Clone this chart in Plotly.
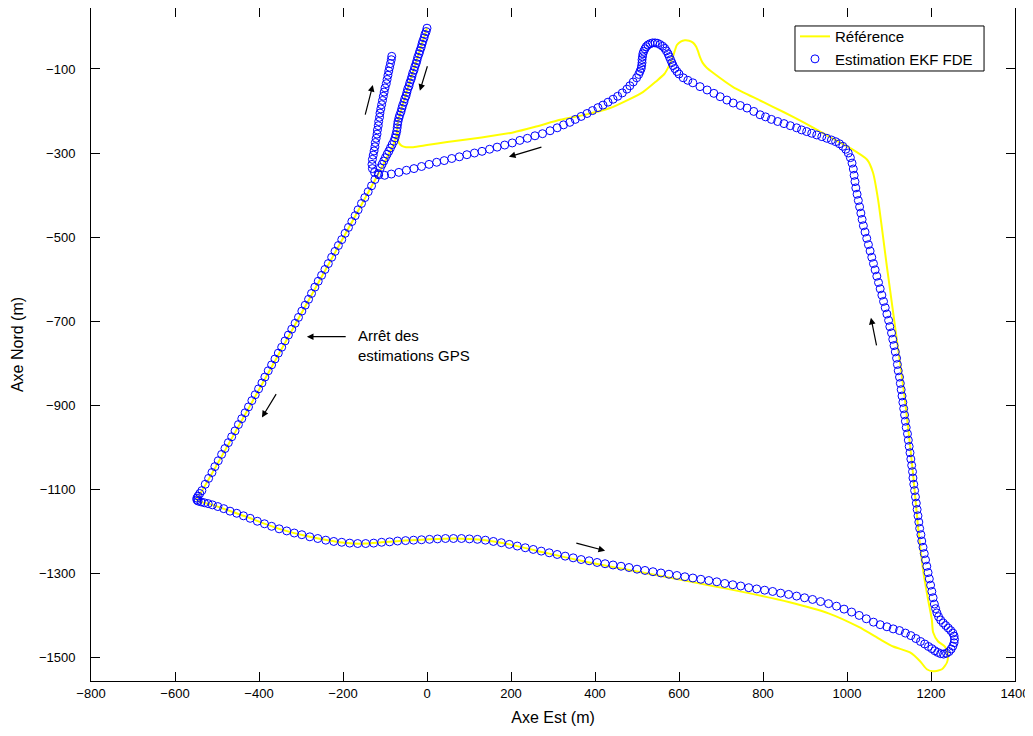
import plotly.graph_objects as go

# ---------------- Estimation EKF FDE (blue circles), by route segment ----------------
depart_e = [0, -2, -5, -7, -10, -12, -14, -17, -19, -22, -24, -26, -29, -31, -34, -36, -38, -41, -43, -46,
            -48, -50, -53, -55, -58, -60, -62, -65, -67, -69, -70, -71, -72, -74, -76, -79, -83, -87, -91, -95,
            -99, -103, -107, -111]
depart_n = [-3, -11, -18, -26, -34, -41, -49, -57, -64, -72, -80, -87, -95, -103, -110, -118, -125, -133, -141, -148,
            -156, -164, -171, -179, -187, -194, -202, -210, -217, -225, -232, -240, -248, -256, -264, -272, -280, -288, -296, -303,
            -311, -319, -327, -335]

diag_e = [-116, -124, -132, -140, -148, -156, -164, -171, -179, -187, -195, -203, -211, -219, -227, -235, -243, -251, -259, -267,
          -275, -282, -290, -298, -306, -314, -322, -330, -338, -346, -354, -362, -370, -378, -386, -393, -401, -409, -417, -425,
          -433, -441, -449, -457, -465, -473, -481, -489, -497, -505, -512, -520, -528, -536, -541, -545, -548, -548]
diag_n = [-349, -363, -378, -392, -406, -420, -435, -449, -463, -477, -491, -506, -520, -534, -548, -563, -577, -591, -605, -619,
          -634, -648, -662, -676, -691, -705, -719, -733, -747, -762, -776, -790, -804, -818, -833, -847, -861, -875, -889, -904,
          -918, -932, -946, -961, -975, -989, -1003, -1017, -1032, -1046, -1060, -1074, -1088, -1103, -1110, -1116, -1121, -1125]

bas_e = [-545, -538, -530, -521, -511, -498, -484, -469, -453, -437, -421, -404, -387, -370, -352, -334, -316, -298, -279, -260,
         -241, -222, -203, -184, -165, -146, -127, -108, -89, -70, -51, -32, -13, 6, 25, 44, 63, 82, 101, 120,
         139, 158, 177, 196, 215, 234, 253, 272, 291, 310, 329, 348, 367, 386, 405, 424, 443, 462, 481, 500,
         519, 538, 557, 576, 595, 614, 633, 652, 671, 690, 709, 728, 747, 766, 785, 804, 823, 842, 861, 880,
         899, 918, 937, 956, 975, 993, 1011, 1029, 1046, 1063, 1079, 1095, 1110, 1125, 1139, 1152, 1164, 1175, 1185, 1194,
         1202, 1209, 1216, 1223, 1230, 1237, 1243, 1248, 1252, 1255, 1256, 1255, 1252, 1247, 1241, 1235, 1229, 1223, 1218, 1214,
         1211, 1208]
bas_n = [-1128, -1130, -1132, -1134, -1137, -1141, -1146, -1152, -1157, -1163, -1169, -1176, -1182, -1188, -1194, -1199, -1204, -1208, -1213, -1217,
         -1221, -1224, -1226, -1228, -1229, -1229, -1228, -1226, -1225, -1223, -1222, -1221, -1220, -1219, -1218, -1217, -1217, -1217, -1218, -1219,
         -1221, -1224, -1227, -1231, -1235, -1239, -1243, -1247, -1251, -1255, -1259, -1263, -1267, -1270, -1274, -1277, -1280, -1283, -1286, -1290,
         -1293, -1296, -1299, -1302, -1305, -1308, -1311, -1314, -1317, -1320, -1324, -1327, -1330, -1334, -1337, -1340, -1343, -1347, -1350, -1354,
         -1358, -1362, -1367, -1372, -1378, -1385, -1392, -1400, -1408, -1416, -1422, -1427, -1432, -1436, -1442, -1448, -1455, -1462, -1468, -1474,
         -1479, -1484, -1488, -1491, -1492, -1490, -1486, -1480, -1473, -1465, -1457, -1449, -1442, -1436, -1430, -1424, -1418, -1411, -1403, -1394,
         -1384, -1373]

droite_e = [1205, 1202, 1199, 1196, 1193, 1190, 1187, 1184, 1181, 1178, 1176, 1173, 1171, 1169, 1167, 1165, 1163, 1161, 1159, 1157,
            1156, 1154, 1152, 1150, 1148, 1146, 1144, 1141, 1139, 1137, 1135, 1133, 1131, 1129, 1127, 1125, 1122, 1120, 1118, 1115,
            1112, 1109, 1106, 1102, 1099, 1095, 1091, 1087, 1083, 1079, 1075, 1071, 1067, 1063, 1059, 1055, 1051, 1047, 1043, 1039,
            1036, 1033, 1030, 1027, 1024, 1021, 1019, 1017, 1015, 1012, 1008, 1003, 997, 990, 982, 973, 963, 952, 940, 928,
            916, 904, 892]
droite_n = [-1358, -1343, -1328, -1313, -1298, -1283, -1268, -1253, -1238, -1223, -1208, -1193, -1178, -1163, -1148, -1133, -1118, -1103, -1088, -1073,
            -1058, -1043, -1028, -1013, -998, -983, -968, -953, -938, -923, -908, -893, -878, -863, -848, -833, -818, -803, -788, -773,
            -758, -743, -728, -713, -698, -683, -668, -653, -638, -623, -608, -593, -578, -563, -548, -533, -518, -503, -488, -473,
            -458, -443, -428, -413, -398, -383, -368, -353, -338, -324, -311, -300, -291, -284, -278, -273, -269, -265, -261, -257,
            -253, -249, -245]

sommet_e = [880, 865, 850, 835, 820, 806, 793, 778, 762, 746, 729, 714, 698, 683, 667, 650, 633, 621, 610, 600,
            595, 590, 586, 583, 580, 577, 574, 570, 566, 561, 555, 549, 543, 537, 531, 526, 522, 519, 516, 514,
            513, 512, 512, 511, 510, 507, 504, 499, 491, 483, 476, 465, 454, 443, 431, 419, 407, 394, 381, 367,
            353, 340, 325]
sommet_n = [-240, -235, -230, -225, -220, -214, -209, -201, -193, -187, -181, -174, -166, -158, -150, -142, -133, -127, -121, -112,
            -106, -99, -92, -85, -78, -71, -64, -57, -51, -46, -42, -39, -38, -38, -40, -43, -47, -52, -58, -64,
            -71, -78, -85, -92, -99, -106, -113, -121, -131, -140, -148, -157, -165, -172, -179, -186, -192, -199, -206, -213,
            -220, -227, -233]

retour_e = [310, 293, 275, 257, 239, 221, 203, 185, 167, 149, 131, 113, 95, 77, 59, 41, 23, 5, -13, -31,
            -49, -67, -85, -101, -115, -125, -130, -131, -130, -128, -126, -124, -123, -121, -119, -118, -116, -115, -113, -112,
            -110, -108, -106, -104, -102, -100, -97, -95, -93, -91, -89, -87, -85, -84]
retour_n = [-240, -247, -254, -259, -265, -270, -276, -281, -286, -291, -296, -300, -304, -309, -313, -318, -322, -327, -332, -337,
            -341, -346, -350, -353, -352, -346, -337, -327, -315, -305, -295, -285, -275, -265, -255, -245, -235, -225, -215, -205,
            -195, -185, -175, -165, -155, -145, -135, -125, -115, -105, -96, -87, -78, -70]

# ---------------- Référence (yellow line) ----------------
ref_e = [0, -69, -72, -80, -108, -544, -548, -545, -511, -437, -352, -279, -190, -146, -108, -51, 6, 63, 101, 139,
         196, 291, 386, 481, 576, 671, 766, 861, 956, 1029, 1079, 1110, 1150, 1174, 1190, 1205, 1226, 1238, 1240, 1233,
         1217, 1205, 1202, 1193, 1181, 1169, 1157, 1138, 1121, 1095, 1074, 1062, 1048, 1007, 960, 900, 850, 793, 729, 681,
         666, 656, 650, 645, 641, 634, 624, 614, 604, 595, 590, 584, 575, 565, 545, 514, 480, 436, 380, 317,
         260, 205, 130, 48, 0, -33, -50, -60, -66, -69, -70]
ref_n = [-3, -225, -255, -280, -335, -1117, -1121, -1128, -1137, -1163, -1194, -1213, -1228, -1229, -1226, -1222, -1219, -1217, -1218, -1221,
         -1231, -1253, -1274, -1292, -1310, -1328, -1347, -1368, -1395, -1428, -1457, -1474, -1488, -1509, -1528, -1533, -1528, -1512, -1493, -1474,
         -1462, -1440, -1410, -1362, -1291, -1189, -1060, -887, -761, -570, -411, -347, -316, -288, -262, -229, -203, -175, -143, -109,
         -97, -85, -72, -57, -47, -38, -33, -32, -35, -43, -57, -75, -95, -112, -130, -155, -173, -193, -208, -221,
         -237, -251, -263, -274, -281, -286, -286, -283, -277, -269, -250]

# ---------------- Direction arrows (tail -> head) and note ----------------
arrow_tail_e = [2, -148, 276, -357, 352, 1071, -190]
arrow_tail_n = [-90, -212, -285, -870, -1227, -761, -737]
arrow_head_e = [-17, -129, 195, -393, 424, 1057, -286]
arrow_head_n = [-152, -138, -309, -929, -1246, -692, -737]
note_text = "Arrêt des<br>estimations GPS"
note_e, note_n = -170, -757

x_ticks = [-800, -600, -400, -200, 0, 200, 400, 600, 800, 1000, 1200, 1400]
y_ticks = [-100, -300, -500, -700, -900, -1100, -1300, -1500]

est_e = depart_e + diag_e + bas_e + droite_e + sommet_e + retour_e
est_n = depart_n + diag_n + bas_n + droite_n + sommet_n + retour_n

FONT = "Liberation Sans, Arial, Helvetica, sans-serif"

fig = go.Figure()
fig.add_trace(go.Scatter(x=ref_e, y=ref_n, mode="lines", name="Référence",
                         line=dict(color="#FFFF00", width=2, shape="spline", smoothing=0.6)))
fig.add_trace(go.Scatter(x=est_e, y=est_n, mode="markers", name="Estimation EKF FDE",
                         marker=dict(symbol="circle-open", size=8, color="#0000FF",
                                     line=dict(width=1, color="#0000FF"))))

for te, tn, he, hn in zip(arrow_tail_e, arrow_tail_n, arrow_head_e, arrow_head_n):
    fig.add_annotation(x=he, y=hn, ax=te, ay=tn, xref="x", yref="y", axref="x", ayref="y",
                       text="", showarrow=True, arrowhead=2, arrowsize=1.1, arrowwidth=1.2,
                       arrowcolor="black")

fig.add_annotation(x=note_e, y=note_n, xref="x", yref="y", text=note_text, showarrow=False,
                   xanchor="left", yanchor="middle", align="left",
                   font=dict(family=FONT, size=15, color="black"))

axis_common = dict(showgrid=False, zeroline=False, showline=True, linecolor="black", linewidth=1,
                   mirror="allticks", ticks="inside", ticklen=9, tickcolor="black", tickwidth=1,
                   tickfont=dict(family=FONT, size=13, color="black"))

fig.update_xaxes(range=[-800, 1400], tickvals=x_ticks, ticktext=[str(v).replace("-", "\u2212") for v in x_ticks],
                 title=dict(text="Axe Est (m)", font=dict(family=FONT, size=16, color="black"), standoff=12),
                 **axis_common)
fig.update_yaxes(range=[-1556, 45], tickvals=y_ticks, ticktext=[str(v).replace("-", "\u2212") for v in y_ticks],
                 title=dict(text="Axe Nord (m)", font=dict(family=FONT, size=16, color="black"), standoff=11),
                 ticklabelstandoff=12, **axis_common)

# legend frame (MATLAB-style box)
fig.add_shape(type="rect", xref="paper", yref="paper", x0=0.7619, x1=0.9665, y0=0.9064, y1=0.9733,
              line=dict(color="black", width=1), fillcolor="white", layer="below")

fig.update_layout(
    width=1025, height=728,
    margin=dict(l=83, r=18, t=0, b=55, autoexpand=False),
    paper_bgcolor="white", plot_bgcolor="white",
    showlegend=True,
    legend=dict(x=0.7619, y=0.982, xanchor="left", yanchor="top", bgcolor="rgba(0,0,0,0)",
                borderwidth=0, font=dict(family=FONT, size=15, color="black"),
                itemwidth=30, tracegroupgap=0),
    font=dict(family=FONT, color="black"),
)

fig.write_html("out.html")
